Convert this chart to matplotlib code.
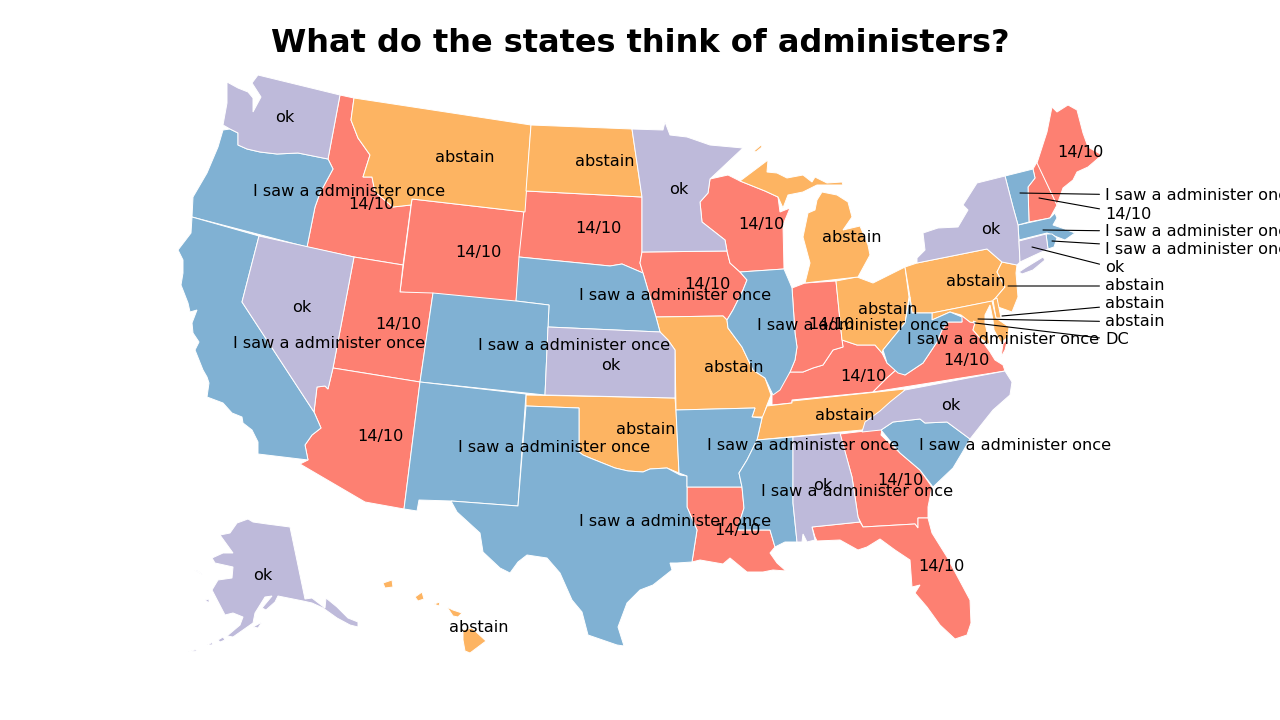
import matplotlib.pyplot as plt
from matplotlib.patches import Polygon

# state outlines (map units, y pointing down)
WA = [[(258,75),(340,95),(328,159),(298,153),(277,154),(260,152),(247,149),(238,145),(238,133),(230,129),(223,125),(227,103),(227,82),(238,88),(248,92),(253,98),(253,112),(261,97),(252,83)]]
OR = [[(223,130),(230,129),(238,133),(238,145),(247,149),(260,152),(277,154),(298,153),(328,159),(333,169),(320,193),(315,207),(307,247),(192,217),(193,197),(207,173),(218,147)]]
ID = [[(340,95),(354,98),(351,120),(358,138),(370,155),(363,177),(372,177),(375,192),(393,207),(411,205),(403,265),(354,257),(307,247),(315,207),(320,193),(333,169),(328,159)]]
MT = [[(354,98),(531,125),(525,212),(412,199),(411,205),(393,207),(375,192),(372,177),(363,177),(370,155),(358,138),(351,120)]]
WY = [[(412,199),(525,212),(516,302),(400,292)]]
ND = [[(531,125),(632,129),(642,197),(526,191)]]
SD = [[(526,191),(642,197),(642,252),(640,263),(643,273),(622,264),(610,266),(519,257)]]
NE = [[(519,257),(610,266),(622,264),(643,273),(653,307),(656,317),(660,332),(548,327),(549,305),(516,301)]]
CO = [[(433,293),(516,301),(549,305),(545,395),(420,382)]]
UT = [[(354,257),(403,265),(400,292),(433,293),(420,382),(333,368)]]
NV = [[(259,236),(354,257),(333,368),(328,389),(325,386),(317,387),(314,412),(242,302)]]
CA = [[(192,217),(259,236),(242,302),(314,412),(321,428),(312,435),(305,445),(308,460),(258,454),(258,442),(252,430),(243,423),(242,417),(232,413),(223,403),(207,397),(209,383),(207,377),(203,370),(195,350),(199,342),(193,333),(192,323),(197,310),(190,312),(188,303),(181,285),(183,273),(183,260),(178,250),(191,233)]]
AZ = [[(333,368),(420,382),(404,509),(365,502),(300,464),(308,460),(305,445),(312,435),(321,428),(314,412),(317,387),(325,386),(328,389)]]
NM = [[(420,382),(526,394),(518,506),(451,501),(419,500),(417,511),(404,509)]]
TX = [[(526,406),(579,408),(579,452),(583,455),(590,458),(615,468),(628,471),(643,472),(650,469),(667,468),(680,475),(687,476),(687,507),(697,530),(692,562),(677,563),(670,563),(672,570),(653,585),(640,590),(627,603),(618,627),(624,646),(617,645),(588,635),(582,612),(572,600),(560,573),(547,558),(527,555),(518,562),(510,573),(500,568),(483,552),(480,533),(457,512),(451,501),(518,506)]]
OK = [[(526,395),(675,398),(676,410),(679,473),(667,468),(650,469),(643,472),(628,471),(615,468),(590,458),(583,455),(579,452),(579,408),(526,406)]]
KS = [[(548,327),(660,332),(668,340),(675,350),(675,398),(545,395)]]
MO = [[(656,317),(723,316),(727,320),(728,328),(742,347),(753,370),(765,378),(771,395),(767,405),(763,417),(752,417),(755,408),(676,410),(675,350),(668,340),(660,332)]]
AR = [[(676,410),(755,408),(752,417),(762,418),(757,440),(747,460),(739,473),(742,487),(687,487),(687,476),(679,473)]]
LA = [[(687,487),(742,487),(744,508),(737,530),(770,530),(775,547),(770,553),(777,563),(786,571),(773,570),(763,572),(747,572),(730,558),(723,564),(700,560),(692,562),(697,530),(687,507)]]
MS = [[(757,440),(793,437),(793,503),(797,542),(785,542),(775,547),(770,530),(737,530),(744,508),(742,487),(739,473),(747,460)]]
AL = [[(793,437),(840,433),(852,477),(858,517),(860,522),(812,527),(815,540),(807,542),(803,534),(802,542),(797,542),(793,503)]]
GA = [[(840,434),(882,429),(881,435),(900,453),(920,470),(932,487),(928,507),(928,518),(918,518),(918,528),(915,524),(863,527),(858,517),(852,477)]]
FL = [[(812,527),(860,522),(863,527),(915,524),(918,528),(918,518),(928,518),(932,533),(947,557),(970,600),(971,623),(967,635),(955,639),(940,625),(927,607),(915,593),(920,585),(912,587),(910,560),(895,550),(880,539),(867,547),(858,550),(840,540),(817,541),(815,537)]]
SC = [[(881,430),(893,422),(920,419),(925,423),(947,422),(970,439),(962,453),(953,468),(933,487),(920,470),(900,453)]]
NC = [[(905,390),(1005,371),(1012,382),(1010,395),(993,410),(985,420),(970,439),(947,422),(925,423),(920,419),(893,422),(881,430),(862,432),(865,422),(880,411),(890,402)]]
TN = [[(767,406),(792,403),(792,401),(905,389),(900,398),(890,403),(878,415),(862,430),(757,440),(762,418)]]
KY = [[(772,405),(772,389),(790,372),(803,372),(813,368),(823,365),(833,350),(843,347),(842,340),(857,345),(875,345),(882,353),(887,363),(896,370),(887,378),(873,392),(792,400),(792,403)]]
VA = [[(873,392),(887,378),(896,370),(905,375),(923,363),(937,342),(942,330),(948,322),(962,322),(961,315),(970,322),(975,323),(973,330),(980,338),(990,352),(995,360),(1003,365),(1005,371)],
      [(1001,357),(1003,344),(1008,338),(1005,350)]]
WV = [[(883,350),(905,323),(910,297),(912,313),(932,313),(932,320),(950,312),(962,317),(962,322),(948,322),(942,330),(937,342),(923,363),(905,375),(898,373),(887,363)]]
OH = [[(836,281),(857,277),(873,283),(905,267),(909,297),(905,323),(883,350),(882,353),(875,345),(857,345),(842,340)]]
IN = [[(792,288),(805,283),(836,281),(842,340),(843,347),(833,350),(823,365),(813,368),(803,372),(790,372),(795,360),(797,347),(795,333)]]
IL = [[(740,272),(784,269),(790,283),(792,288),(795,333),(797,347),(795,360),(790,372),(780,390),(773,395),(765,378),(753,370),(742,347),(728,328),(727,320),(733,310),(743,290),(747,280)]]
IA = [[(642,252),(727,251),(730,263),(740,272),(747,280),(743,290),(733,310),(727,320),(723,316),(656,317),(653,307),(643,273),(640,263)]]
MN = [[(632,129),(663,130),(665,122),(670,135),(687,137),(710,145),(743,148),(710,179),(708,193),(700,202),(702,222),(725,240),(727,251),(642,252),(642,197)]]
WI = [[(710,179),(728,175),(740,181),(765,191),(778,197),(780,212),(790,208),(783,225),(784,269),(740,272),(730,263),(727,251),(725,240),(702,222),(700,202),(708,193)]]
MI = [[(740,181),(768,160),(767,172),(777,173),(787,178),(803,175),(812,182),(815,177),(827,183),(842,182),(843,185),(825,185),(817,185),(803,192),(788,195),(783,208),(778,197),(765,191)],
      [(822,192),(837,195),(848,202),(852,217),(843,230),(860,226),(868,245),(870,255),(858,277),(805,283),(810,263),(803,237),(808,213),(815,210),(817,200)],
      [(754,151),(761,145),(762,147),(756,152)]]
NY = [[(1005,176),(1013,207),(1018,225),(1019,242),(1020,262),(1017,265),(1002,262),(987,249),(917,263),(917,258),(925,250),(923,233),(938,228),(958,227),(968,210),(963,205),(977,183)],
      [(1019,272),(1025,268),(1043,257),(1045,260),(1033,270),(1022,274)]]
PA = [[(905,267),(917,263),(987,249),(1002,262),(997,272),(1005,287),(993,301),(932,313),(912,313),(910,297)]]
NJ = [[(1002,262),(1017,265),(1016,273),(1018,297),(1012,312),(998,307),(993,301),(1005,287),(997,272)]]
DE = [[(993,300),(997,298),(1000,313),(1001,318),(996,318)]]
MD = [[(932,313),(992,301),(996,318),(1009,327),(1008,337),(1001,343),(994,330),(993,320),(990,305),(985,315),(985,323),(990,345),(980,338),(973,330),(975,323),(970,322),(961,315),(950,312),(932,320)]]
DC = [[(973,321),(976,322),(975,324)]]
MA = [[(1018,225),(1050,218),(1055,213),(1057,218),(1053,225),(1062,228),(1075,233),(1065,240),(1057,237),(1047,233),(1019,240)]]
RI = [[(1046,234),(1052,234),(1057,238),(1054,247),(1048,249)]]
CT = [[(1019,241),(1046,234),(1048,249),(1020,262)]]
VT = [[(1005,176),(1033,169),(1035,178),(1028,187),(1029,222),(1018,225),(1013,207)]]
NH = [[(1033,169),(1037,162),(1057,205),(1050,218),(1029,222),(1028,187),(1035,178)]]
ME = [[(1037,163),(1047,132),(1052,107),(1057,112),(1068,105),(1077,110),(1083,133),(1088,147),(1102,155),(1088,167),(1077,172),(1073,180),(1063,188),(1057,205)]]
AK = [[(248,519),(253,522),(267,524),(290,527),(305,599),(312,598),(325,608),(326,598),(337,607),(348,618),(358,622),(358,627),(350,625),(337,618),(323,608),(312,603),(303,601),(278,596),(275,602),(266,610),(262,608),(272,596),(265,597),(255,613),(253,623),(233,637),(227,636),(240,625),(243,617),(233,613),(225,615),(212,590),(218,580),(232,578),(233,567),(215,563),(212,558),(223,553),(233,553),(220,535),(230,533),(237,523)],
      [(253,627),(262,622),(258,628)],
      [(207,645),(213,642),(212,645)],
      [(218,640),(223,637),(225,640),(220,642)],
      [(194,570),(198,571),(203,575)],
      [(205,600),(209,599),(209,603)],
      [(188,652),(197,649),(196,651)]]
HI = [[(383,583),(392,580),(393,587),(385,588)],
      [(415,597),(422,592),(424,599),(418,601)],
      [(434,604),(440,602),(439,606)],
      [(447,607),(453,610),(462,613),(458,617),(453,616)],
      [(463,630),(472,628),(486,641),(470,653),(465,651),(463,640)]]

red = '#fd8072'
orange = '#fdb462'
blue = '#80b1d3'
purple = '#bebada'

red_states = [ID, WY, SD, UT, AZ, LA, GA, FL, KY, VA, IN, IA, WI, NH, ME]
orange_states = [MT, ND, OK, MO, TN, OH, MI, PA, NJ, DE, MD, HI]
blue_states = [OR, NE, CO, CA, NM, TX, AR, MS, SC, WV, IL, MA, RI, VT, DC]
purple_states = [WA, NV, KS, AL, NC, MN, NY, CT, AK]

# labels sitting on the map
labels = ['ok', 'I saw a administer once', 'abstain', '14/10', '14/10', 'abstain', '14/10', 'ok', '14/10', 'abstain',
          'I saw a administer once', '14/10', 'I saw a administer once', 'ok', '14/10', 'ok', 'I saw a administer once',
          '14/10', 'I saw a administer once', 'abstain', 'I saw a administer once', 'abstain', 'I saw a administer once',
          '14/10', 'I saw a administer once', 'ok', '14/10', '14/10', 'I saw a administer once', 'ok', 'abstain', '14/10',
          '14/10', 'I saw a administer once', 'I saw a administer once', '14/10', 'abstain', 'abstain', 'ok', '14/10',
          'ok', 'abstain']
label_x = [285, 349, 465, 371, 478, 605, 598, 679, 761, 852, 675, 707, 574, 611, 398, 302, 329, 380, 554, 646, 675,
           734, 803, 737, 857, 823, 900, 941, 1015, 951, 845, 863, 966, 1003, 853, 831, 888, 976, 991, 1080, 263, 479]
label_y = [118, 192, 158, 204, 252, 162, 229, 190, 224, 238, 295, 284, 345, 365, 324, 308, 343, 436, 447, 430, 522,
           367, 445, 531, 491, 486, 481, 567, 446, 405, 416, 376, 360, 340, 326, 325, 310, 282, 229, 152, 575, 627]

# small states labelled off to the right
side_labels = ['I saw a administer once', '14/10', 'I saw a administer once', 'I saw a administer once', 'ok',
               'abstain', 'abstain', 'abstain', 'DC']
side_y = [196, 214, 232, 250, 268, 286, 304, 322, 340]
target_x = [1020, 1039, 1043, 1052, 1032, 1008, 1002, 978, 975]
target_y = [193, 198, 230, 241, 247, 286, 316, 319, 323]

fig = plt.figure(figsize=(12.8, 7.2), dpi=100)
ax = fig.add_axes([0, 0, 1, 1])
ax.set_xlim(0, 1280)
ax.set_ylim(720, 0)
ax.axis('off')

for group, color in [(red_states, red), (orange_states, orange), (blue_states, blue), (purple_states, purple)]:
    for state in group:
        for part in state:
            ax.add_patch(Polygon(part, closed=True, facecolor=color, edgecolor='white', linewidth=0.7))

for text, x, y in zip(labels, label_x, label_y):
    ax.text(x, y, text, ha='center', va='center', fontsize=11.6, color='black')

for text, y, tx, ty in zip(side_labels, side_y, target_x, target_y):
    ax.annotate(text, xy=(tx, ty), xytext=(1105, y), va='center', ha='left', fontsize=11.6, annotation_clip=False,
                arrowprops=dict(arrowstyle='-', color='black', linewidth=0.8, shrinkA=2, shrinkB=0))

ax.text(640, 43, 'What do the states think of administers?', ha='center', va='center', fontsize=23.05, fontweight='bold')

plt.savefig('out.png', dpi=100)
